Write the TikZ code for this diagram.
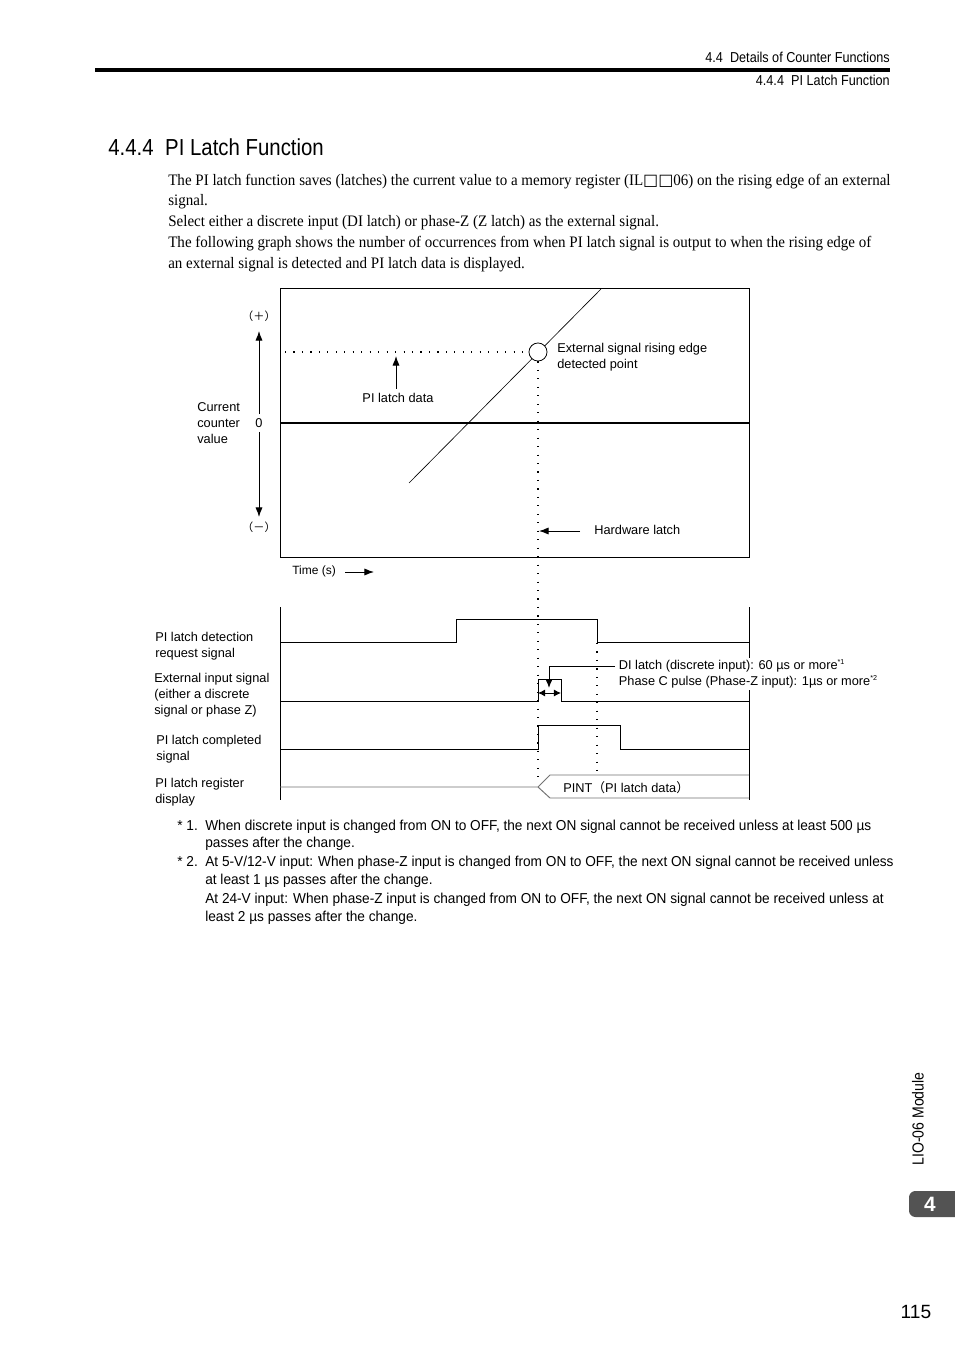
\documentclass[tikz,border=0pt]{standalone}
\usepackage{fontspec}
\setmainfont[FakeStretch=0.94]{Liberation Serif}
\newfontfamily\labelfont{Liberation Sans}
\newfontfamily\narrowfont[FakeStretch=0.88]{Liberation Sans}
\newfontfamily\notefont[FakeStretch=0.95]{Liberation Sans}
\newfontfamily\cjkfont{Noto Sans CJK JP}
\newfontfamily\boxfont{DejaVu Sans}
\usetikzlibrary{arrows.meta, positioning}
\tikzset{
    lbl/.style={font=\labelfont\fontsize{8}{9.9}\selectfont, inner sep=0pt, align=left},
    bodyline/.style={anchor=base west, inner sep=0pt, font=\fontsize{10}{12}\selectfont},
    noteline/.style={anchor=base west, inner sep=0pt, font=\notefont\fontsize{9}{11}\selectfont},
    headline/.style={anchor=east, inner sep=0pt, font=\narrowfont\fontsize{9}{11}\selectfont},
    sig/.style={line width=0.6pt},
    guide/.style={line width=0.7pt, dash pattern=on 0.7pt off 4.6pt},
    arr/.style={-{Latex[length=6pt,width=4.5pt]}, line width=0.6pt}
}

\begin{document}
\begin{tikzpicture}[x=0.022cm, y=-0.022cm]
    \path[fill=white, use as bounding box] (0,0) rectangle (954,1350);

    % ---------- page header ----------
    \node[headline] (sect) at (890,57) {4.4\enspace Details of Counter Functions};
    \draw[line width=3pt] (95,70) -- (890,70);
    \node[headline] (subsect) at (890,80) {4.4.4\enspace PI Latch Function};

    % ---------- title and text ----------
    \node[anchor=west, inner sep=0pt, font=\narrowfont\fontsize{14.5}{17}\selectfont] (title) at (108,147) {4.4.4\enspace PI Latch Function};
    \node[bodyline] (b1) at (168,186) {The PI latch function saves (latches) the current value to a memory register (IL{\boxfont\fontsize{10}{10}\selectfont □□}06) on the rising edge of an external};
    \node[bodyline] (b2) at (168,206) {signal.};
    \node[bodyline] (b3) at (168,227) {Select either a discrete input (DI latch) or phase-Z (Z latch) as the external signal.};
    \node[bodyline] (b4) at (168,248) {The following graph shows the number of occurrences from when PI latch signal is output to when the rising edge of};
    \node[bodyline] (b5) at (168,269) {an external signal is detected and PI latch data is displayed.};

    % ---------- counter graph ----------
    \draw[line width=0.6pt] (280,288) rectangle (749,557);
    \draw[line width=1.3pt] (280,423) -- (749,423);
    \draw[line width=0.4pt] (409,483) -- (601,289);
    \node[circle, draw, fill=white, line width=0.5pt, minimum size=11.3pt, inner sep=0pt] (detect) at (538,352) {};
    \coordinate (dotstart) at (285,352);
    \coordinate (dotend) at (538,778);
    \draw[guide] (dotstart) -- (detect.west);
    \draw[guide] (detect.south) -- (dotend);

    \node[lbl, font=\cjkfont\fontsize{7}{8}\selectfont] (plus) at (259,316) {（＋）};
    \node[lbl] (zero) at (259,423) {0};
    \node[lbl, font=\cjkfont\fontsize{7}{8}\selectfont] (minus) at (259,527) {（－）};
    \node[lbl, anchor=west] (curval) at (197,423) {Current\\counter\\value};
    \draw[arr] (zero.north) ++(0,-4) coordinate (uptail) -- (259,331) coordinate (uptip);
    \draw[arr] (zero.south) ++(0,4) coordinate (dntail) -- (259,517) coordinate (dntip);

    \node[lbl] (latchdata) at (398,398) {PI latch data};
    \coordinate (ldtip) at (396,356);
    \draw[arr] (latchdata.north -| ldtip) ++(0,-4) -- (ldtip);

    \node[lbl, anchor=west] (rising) at (557,357) {External signal rising edge\\detected point};
    \node[lbl, anchor=west] (hwlatch) at (594,530) {Hardware latch};
    \coordinate (hwtip) at (539,531);
    \draw[arr] (hwlatch.west) ++(-14,1) coordinate (hwtail) -- (hwtip);

    \node[lbl, anchor=west, font=\labelfont\fontsize{7.5}{9}\selectfont] (timelbl) at (292,571) {Time (s)};
    \coordinate (timetip) at (374,572);
    \draw[arr] (timelbl.east) ++(9,1) -- (timetip);

    % ---------- timing chart ----------
    \draw[sig] (280,607) -- (280,800);
    \draw[sig] (749,607) -- (749,800);
    \draw[guide] (597,643) -- (597,776);

    % request
    \draw[sig] (280,642) -- (456,642) -- (456,619) -- (597,619) -- (597,642) -- (749,642);
    \node[lbl, anchor=west] (req) at (155,646) {PI latch detection\\request signal};
    % external input
    \draw[sig] (280,701) -- (538,701) -- (538,679) -- (561,679) -- (561,701) -- (749,701);
    \draw[{Latex[length=4.5pt,width=4.5pt]}-{Latex[length=4.5pt,width=4.5pt]}, line width=0.6pt] (538,693) -- (561,693);
    \node[lbl, anchor=west] (ext) at (154,695) {External input signal\\(either a discrete\\signal or phase Z)};
    \node[lbl, anchor=west, fill=white, inner sep=1pt] (dilatch) at (617,674) {DI latch (discrete input): 60 µs or more\textsuperscript{\fontsize{4.5}{5}\selectfont *1}\\Phase C pulse (Phase-Z input): 1µs or more\textsuperscript{\fontsize{4.5}{5}\selectfont *2}};
    \coordinate (dibend) at (549,666);
    \coordinate (ditip) at (549,688);
    \draw[arr, -{Latex[length=5pt,width=4pt]}] (dilatch.west |- dibend) ++(-2,0) -- (dibend) -- (ditip);
    % completed
    \draw[sig] (280,749) -- (538,749) -- (538,725) -- (620,725) -- (620,749) -- (749,749);
    \node[lbl, anchor=west] (done) at (156,749) {PI latch completed\\signal};
    % register display
    \draw[sig, black!55] (280,787) -- (538,787) -- (550,775) -- (749,775);
    \draw[sig, black!55] (538,787) -- (550,798) -- (749,798);
    \node[lbl, anchor=west] (pint) at (563,788) {PINT{\cjkfont （}PI latch data{\cjkfont ）}};
    \node[lbl, anchor=west] (reg) at (155,792) {PI latch register\\display};

    % ---------- notes ----------
    \node[noteline] (n1) at (177,830) {* 1.};
    \node[noteline] (n1a) at (205,830) {When discrete input is changed from ON to OFF, the next ON signal cannot be received unless at least 500 µs};
    \node[noteline] (n1b) at (205,847) {passes after the change.};
    \node[noteline] (n2) at (177,866) {* 2.};
    \node[noteline] (n2a) at (205,866) {At 5-V/12-V input: When phase-Z input is changed from ON to OFF, the next ON signal cannot be received unless};
    \node[noteline] (n2b) at (205,884) {at least 1 µs passes after the change.};
    \node[noteline] (n2c) at (205,903) {At 24-V input: When phase-Z input is changed from ON to OFF, the next ON signal cannot be received unless at};
    \node[noteline] (n2d) at (205,921) {least 2 µs passes after the change.};

    % ---------- side tab and page number ----------
    \node[rotate=90, inner sep=0pt, font=\narrowfont\fontsize{10}{12}\selectfont] (module) at (918,1119) {LIO-06 Module};
    \fill[gray!65!black, rounded corners=4pt] (909,1191) rectangle (970,1217);
    \node[text=white, inner sep=0pt, font=\labelfont\bfseries\fontsize{13}{15}\selectfont] (chap) at (930,1204) {4};
    \node[inner sep=0pt, font=\labelfont\fontsize{12}{14}\selectfont] (page) at (916,1312) {115};
\end{tikzpicture}
\end{document}
